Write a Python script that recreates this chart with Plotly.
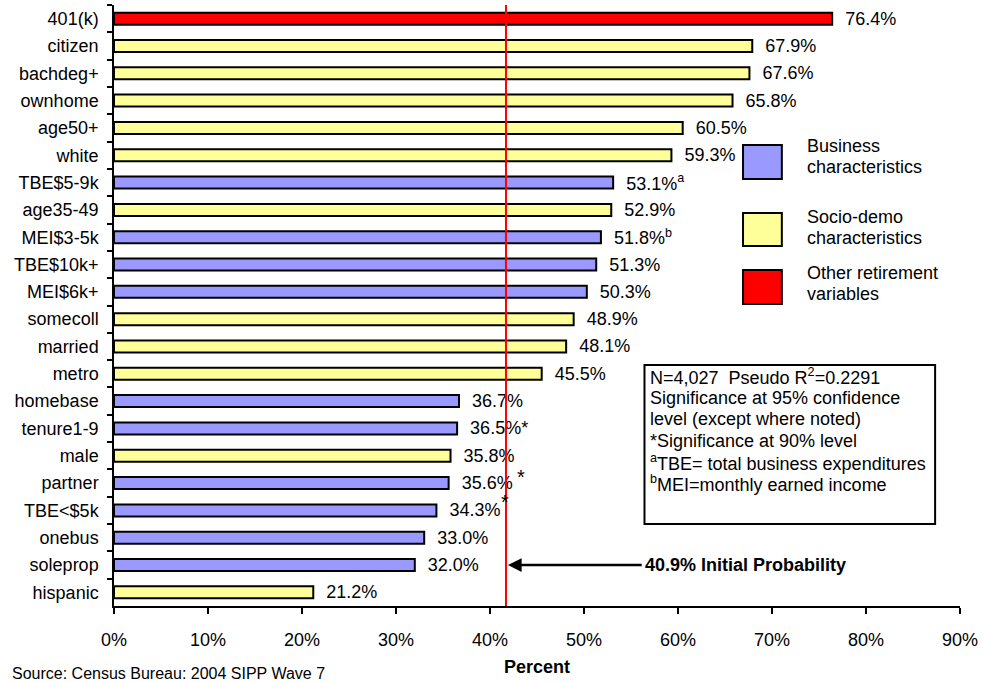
import plotly.graph_objects as go

categories = ["401(k)", "citizen", "bachdeg+", "ownhome", "age50+", "white", "TBE$5-9k",
              "age35-49", "MEI$3-5k", "TBE$10k+", "MEI$6k+", "somecoll", "married", "metro",
              "homebase", "tenure1-9", "male", "partner", "TBE<$5k", "onebus", "soleprop", "hispanic"]
values = [76.4, 67.9, 67.6, 65.8, 60.5, 59.3, 53.1, 52.9, 51.8, 51.3, 50.3, 48.9, 48.1, 45.5,
          36.7, 36.5, 35.8, 35.6, 34.3, 33.0, 32.0, 21.2]
groups = ["other", "socio", "socio", "socio", "socio", "socio", "business",
          "socio", "business", "business", "business", "socio", "socio", "socio",
          "business", "business", "socio", "business", "business", "business", "business", "socio"]
notes = ["", "", "", "", "", "", "<sup>a</sup>", "", "<sup>b</sup>", "", "", "", "", "",
         "", "*", "", "", "", "", "", ""]
raised_star_categories = ["partner", "TBE<$5k"]
initial_prob_line = 41.7
initial_prob_label = "40.9% Initial Probability"
x_ticks = [0, 10, 20, 30, 40, 50, 60, 70, 80, 90]

group_colors = {"business": "#9999FF", "socio": "#FFFF99", "other": "#FF0000"}
legend_items = [("business", "Business", "characteristics"),
                ("socio", "Socio-demo", "characteristics"),
                ("other", "Other retirement", "variables")]
box_lines = ["N=4,027  Pseudo R<sup>2</sup>=0.2291",
             "Significance at 95% confidence",
             "level (except where noted)",
             "*Significance at 90% level",
             "<sup>a</sup>TBE= total business expenditures",
             "<sup>b</sup>MEI=monthly earned income"]

FONT = "Liberation Sans, Arial, sans-serif"
W, H = 983, 682
L, R, T, B = 114, 19, 5, 76
PW, PH = W - L - R, H - T - B


def px(x):
    return (x - L) / PW


def py(y):
    return (H - B - y) / PH


texts = ["\u00a0\u00a0" + f"{v:.1f}%" + n for v, n in zip(values, notes)]

fig = go.Figure()
fig.add_trace(go.Bar(
    x=values, y=categories, orientation="h",
    marker=dict(color=[group_colors[g] for g in groups], line=dict(color="black", width=2)),
    width=0.44,
    text=texts, textposition="outside", constraintext="none", cliponaxis=False,
    textfont=dict(family=FONT, size=18, color="black"),
    showlegend=False, hoverinfo="skip",
))

shapes = [dict(type="line", xref="x", yref="paper", x0=initial_prob_line, x1=initial_prob_line,
               y0=0, y1=1, line=dict(color="#FF0000", width=2))]
annotations = []

# raised significance stars
for cat, shift in zip(raised_star_categories, [(66, 6), (63, 8)]):
    v = values[categories.index(cat)]
    annotations.append(dict(xref="x", yref="y", x=v, y=cat, text="*", showarrow=False,
                            xanchor="left", yanchor="middle", xshift=shift[0], yshift=shift[1],
                            font=dict(family=FONT, size=20, color="black")))

# legend
leg_y = [(145, 179, 146, 167), (213, 246, 217, 238), (270, 304, 273, 294)]
for (g, l1, l2), (y0, y1, t1, t2) in zip(legend_items, leg_y):
    shapes.append(dict(type="rect", xref="paper", yref="paper", x0=px(746), x1=px(785),
                       y0=py(y1), y1=py(y0), fillcolor=group_colors[g],
                       line=dict(color="black", width=2)))
    for txt, ty in ((l1, t1), (l2, t2)):
        annotations.append(dict(xref="paper", yref="paper", x=px(808), y=py(ty), text=txt,
                                showarrow=False, xanchor="left", yanchor="middle",
                                font=dict(family=FONT, size=18, color="black")))

# note box
shapes.append(dict(type="rect", xref="paper", yref="paper", x0=px(647), x1=px(939),
                   y0=py(524), y1=py(365), fillcolor="white", line=dict(color="black", width=2)))
for i, line in enumerate(box_lines):
    annotations.append(dict(xref="paper", yref="paper", x=px(651), y=py(376 + 21.5 * i), text=line,
                            showarrow=False, xanchor="left", yanchor="middle",
                            font=dict(family=FONT, size=18, color="black")))

# arrow and label
arrow_tail = 56.3
annotations.append(dict(xref="x", yref="y", x=initial_prob_line + 0.2, y="soleprop",
                        axref="x", ayref="y", ax=arrow_tail, ay="soleprop", text="",
                        showarrow=True, arrowhead=2, arrowsize=1.1, arrowwidth=2.5,
                        arrowcolor="black"))
annotations.append(dict(xref="x", yref="y", x=arrow_tail, y="soleprop", text="<b>" + initial_prob_label + "</b>",
                        showarrow=False, xanchor="left", yanchor="middle",
                        font=dict(family=FONT, size=18, color="black")))

# axis title and source
annotations.append(dict(xref="paper", yref="paper", x=0.5, y=py(667), text="<b>Percent</b>",
                        showarrow=False, xanchor="center", yanchor="middle",
                        font=dict(family=FONT, size=18, color="black")))
annotations.append(dict(xref="paper", yref="paper", x=px(10), y=py(674),
                        text="Source: Census Bureau: 2004 SIPP Wave 7",
                        showarrow=False, xanchor="left", yanchor="middle",
                        font=dict(family=FONT, size=16, color="black")))

fig.update_layout(
    width=W, height=H,
    margin=dict(l=L, r=R, t=T, b=B),
    paper_bgcolor="white", plot_bgcolor="white",
    font=dict(family=FONT, size=18, color="black"),
    bargap=0.5,
    shapes=shapes, annotations=annotations,
    xaxis=dict(range=[0, 90], tickvals=x_ticks, ticktext=[f"{t}%" for t in x_ticks],
               showgrid=False, zeroline=False, showline=True, linecolor="black", linewidth=1.5,
               ticks="outside", ticklen=6, tickcolor="black", tickwidth=1.5,
               ticklabelstandoff=11, tickfont=dict(family=FONT, size=18, color="black")),
    yaxis=dict(autorange="reversed", type="category", showgrid=False, zeroline=False,
               showline=True, linecolor="black", linewidth=1.5,
               ticks="outside", ticklen=5, tickcolor="black", tickwidth=1.5, tickson="boundaries",
               ticklabelstandoff=10, tickfont=dict(family=FONT, size=18, color="black")),
)

fig.write_html("out.html")
